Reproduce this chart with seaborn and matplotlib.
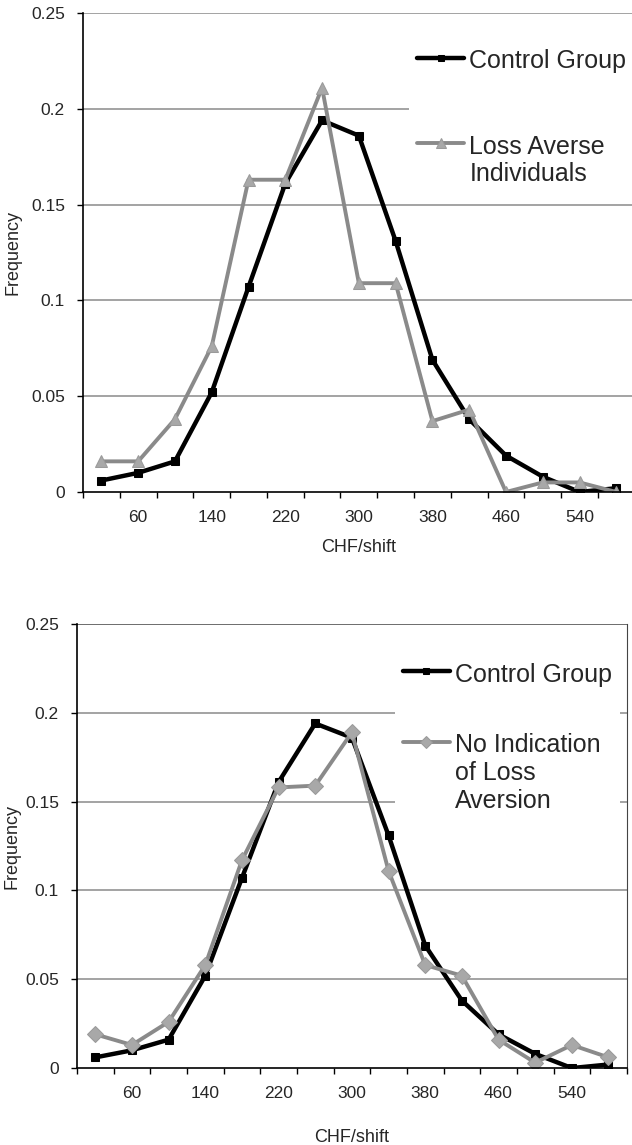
import numpy as np
import pandas as pd
import matplotlib
matplotlib.use('Agg')
import matplotlib.pyplot as plt
import seaborn as sns

# CHF/shift categories (bin centres), labels shown every other category
chf_bins = [20, 60, 100, 140, 180, 220, 260, 300, 340, 380, 420, 460, 500, 540, 580]

# Frequencies
control_group = [0.006, 0.010, 0.016, 0.052, 0.107, 0.161, 0.194, 0.186,
                 0.131, 0.069, 0.038, 0.019, 0.008, 0.000, 0.002]
loss_averse = [0.016, 0.016, 0.038, 0.076, 0.163, 0.163, 0.211, 0.109,
               0.109, 0.037, 0.043, 0.000, 0.005, 0.005, 0.000]
no_loss_aversion = [0.019, 0.013, 0.026, 0.058, 0.117, 0.158, 0.159, 0.189,
                    0.111, 0.058, 0.052, 0.016, 0.003, 0.013, 0.006]

y_ticks = [0, 0.05, 0.1, 0.15, 0.2, 0.25]
y_tick_labels = ['0', '0.05', '0.1', '0.15', '0.2', '0.25']

sns.set_style('white')
plt.rcParams['font.family'] = ['Liberation Sans', 'DejaVu Sans']

GRAY = '#8a8a8a'

fig = plt.figure(figsize=(6.32, 11.45), dpi=100)
ax_top = fig.add_axes([0.1313, 0.5703, 0.873, 0.4183])
ax_bot = fig.add_axes([0.1218, 0.0672, 0.870, 0.3878])

df = pd.DataFrame({'pos': np.arange(len(chf_bins)), 'chf': chf_bins,
                   'control': control_group, 'loss': loss_averse,
                   'noloss': no_loss_aversion})


def style_axis(ax, full_box, xlabelpad, ylabel_x):
    ax.set_xlim(-0.5, len(chf_bins) - 0.5)
    ax.set_ylim(0, 0.25)
    ax.set_yticks(y_ticks)
    ax.set_yticklabels(y_tick_labels)
    ax.set_xticks(df['pos'][1::2])
    ax.set_xticklabels([str(v) for v in chf_bins[1::2]])
    ax.set_xticks(np.arange(-0.5, len(chf_bins) + 0.5, 1), minor=True)
    ax.tick_params(axis='x', which='major', length=0, pad=13, labelsize=12.5)
    ax.tick_params(axis='x', which='minor', length=4, width=1, direction='out',
                   bottom=True, color='black')
    ax.tick_params(axis='y', length=4, width=1, direction='out', left=True,
                   pad=9, labelsize=12.5, color='black')
    ax.grid(False)
    for v in y_ticks[1:]:
        ax.axhline(v, color=GRAY, linewidth=1.1, zorder=0)
    ax.spines['left'].set_color('black')
    ax.spines['bottom'].set_color('black')
    ax.spines['left'].set_linewidth(1.2)
    ax.spines['bottom'].set_linewidth(1.2)
    ax.spines['top'].set_visible(False)
    ax.spines['right'].set_visible(full_box)
    ax.spines['right'].set_color('#444444')
    ax.set_xlabel('CHF/shift', fontsize=13, labelpad=xlabelpad)
    ax.set_ylabel('Frequency', fontsize=13)
    ax.yaxis.set_label_coords(ylabel_x, 0.5)


def make_legend(ax, anchor, spacing):
    leg = ax.legend(loc='upper left', bbox_to_anchor=anchor, fontsize=18,
                    frameon=True, facecolor='white', edgecolor='none',
                    framealpha=1, labelspacing=spacing, handlelength=1.9,
                    handletextpad=0.2, borderpad=0.3, markerscale=0.8)
    # put each handle next to the first line of its label
    for col in leg._legend_handle_box.get_children():
        for item in col.get_children():
            item.align = 'top'
    return leg


# Top panel: control vs loss averse
sns.lineplot(data=df, x='pos', y='control', ax=ax_top, color='black',
             linewidth=3.2, marker='s', markersize=6, markeredgecolor='black',
             label='Control Group')
sns.lineplot(data=df, x='pos', y='loss', ax=ax_top, color=GRAY,
             linewidth=2.8, marker='^', markersize=9, markeredgecolor='#9a9a9a',
             markerfacecolor='#a8a8a8', label='Loss Averse\nIndividuals')
style_axis(ax_top, full_box=False, xlabelpad=10, ylabel_x=-0.112)
make_legend(ax_top, (0.569, 0.966), 2.45)

# Bottom panel: control vs no indication of loss aversion
sns.lineplot(data=df, x='pos', y='control', ax=ax_bot, color='black',
             linewidth=3.2, marker='s', markersize=6, markeredgecolor='black',
             label='Control Group')
sns.lineplot(data=df, x='pos', y='noloss', ax=ax_bot, color=GRAY,
             linewidth=2.8, marker='D', markersize=8, markeredgecolor='#9a9a9a',
             markerfacecolor='#a8a8a8', label='No Indication\nof Loss\nAversion')
style_axis(ax_bot, full_box=True, xlabelpad=20, ylabel_x=-0.102)
ax_bot.axhline(0.25, color='#666666', linewidth=1.2, zorder=0)
make_legend(ax_bot, (0.556, 0.958), 1.85)

fig.savefig('out.png', dpi=100)
